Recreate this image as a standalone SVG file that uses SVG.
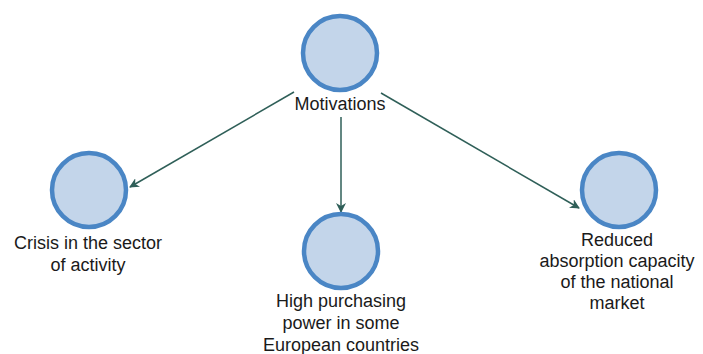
<svg xmlns="http://www.w3.org/2000/svg" width="703" height="354" viewBox="0 0 703 354">
<defs>
<style>
.node circle{fill:#c3d5ea;stroke:#4a86c5;stroke-width:4.5}
.node text{font-family:"Liberation Sans",Arial,sans-serif;font-size:18px;fill:#1a1a1a;text-anchor:middle}
.edge{stroke:#2f5f58;stroke-width:1.5;fill:none;marker-end:url(#ah)}
</style>
<marker id="ah" viewBox="0 0 10 10" refX="9" refY="5" markerWidth="10" markerHeight="10" markerUnits="userSpaceOnUse" orient="auto">
<path d="M0,0 L10,5 L0,10 L3,5 Z" fill="#2f5f58"/>
</marker>
</defs>
<rect width="703" height="354" fill="#ffffff"/>
<g id="connectors">
<line class="edge" x1="294" y1="92" x2="130" y2="187"/>
<line class="edge" x1="341" y1="117" x2="341" y2="212"/>
<line class="edge" x1="381" y1="93" x2="579" y2="208"/>
</g>
<g id="motivations" class="node">
<circle cx="340" cy="53" r="37"/>
<text x="340" y="110">Motivations</text>
</g>
<g id="crisis" class="node">
<circle cx="89" cy="190" r="37"/>
<text x="88" y="249">Crisis in the sector</text>
<text x="88" y="271">of activity</text>
</g>
<g id="purchasing" class="node">
<circle cx="341" cy="251" r="37"/>
<text x="341" y="307">High purchasing</text>
<text x="341" y="329">power in some</text>
<text x="341" y="351">European countries</text>
</g>
<g id="absorption" class="node">
<circle cx="619" cy="190" r="37"/>
<text x="617" y="246">Reduced</text>
<text x="617" y="267">absorption capacity</text>
<text x="617" y="288">of the national</text>
<text x="617" y="309">market</text>
</g>
</svg>
